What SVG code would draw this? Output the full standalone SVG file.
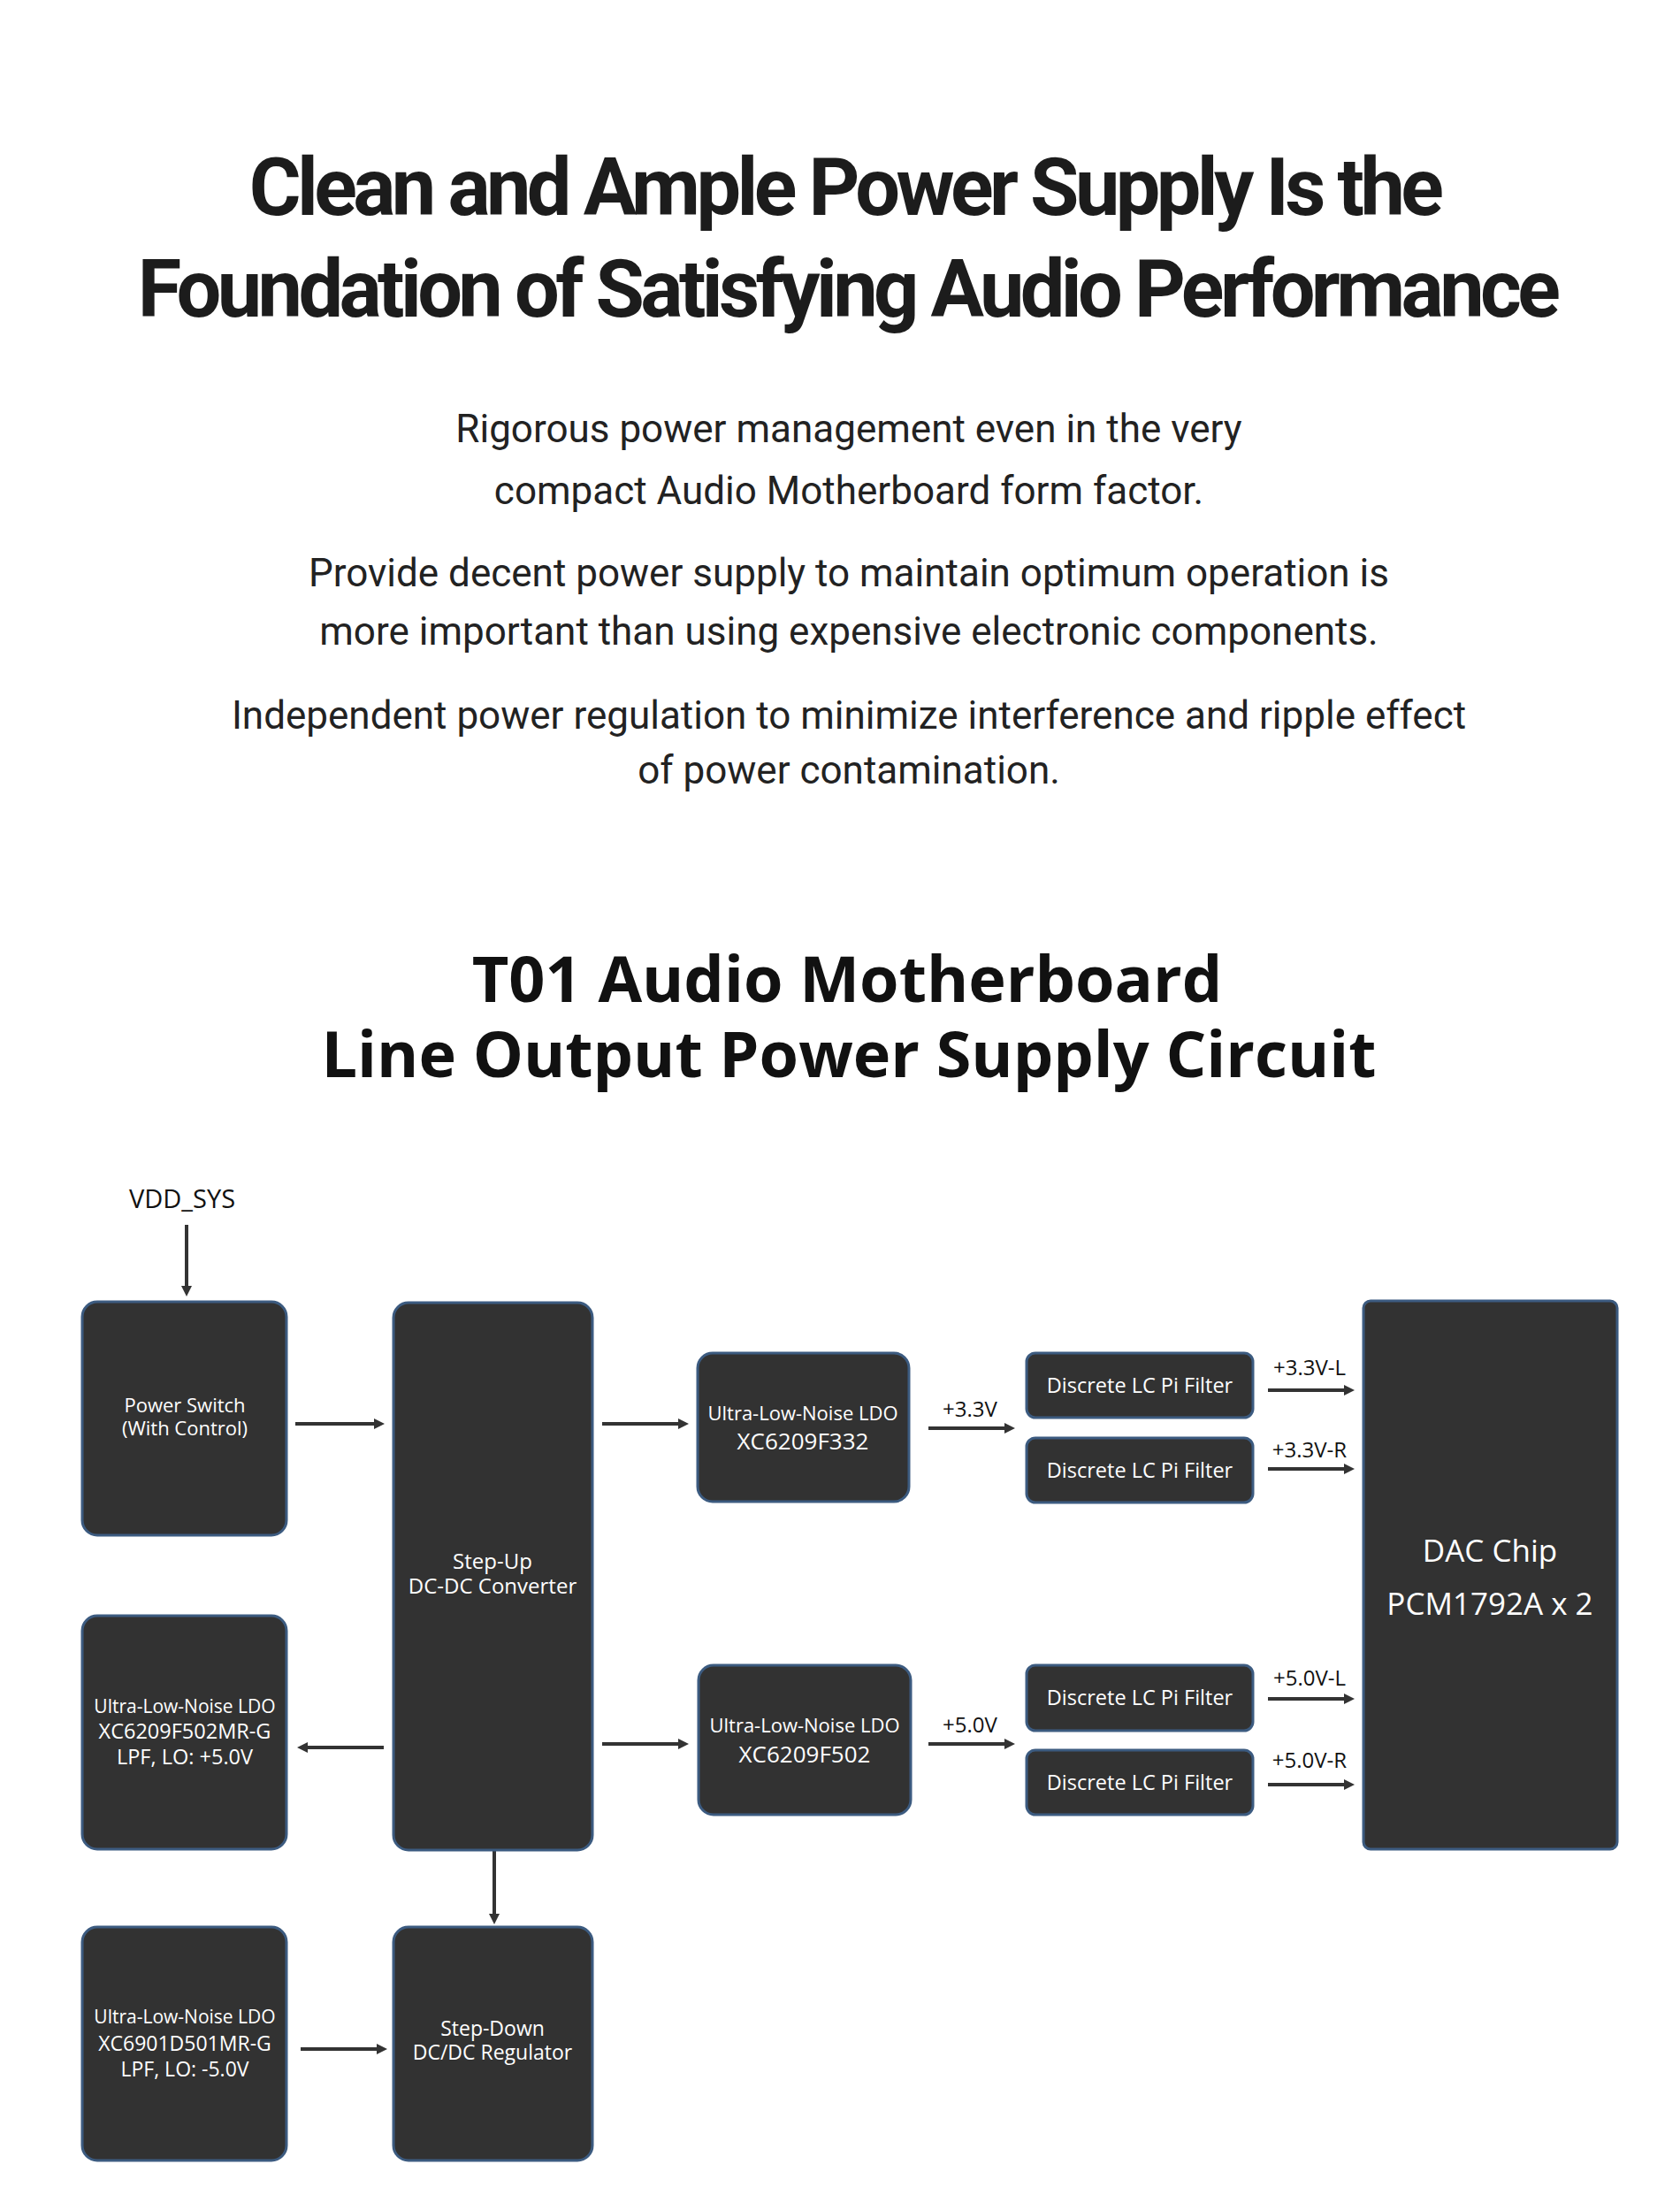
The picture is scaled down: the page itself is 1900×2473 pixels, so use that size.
<svg xmlns="http://www.w3.org/2000/svg" width="1900" height="2473" viewBox="0 0 1900 2473">
<style>
.h1{font-family:Roboto,"Liberation Sans",sans-serif;font-weight:700;font-size:90px;fill:#1c1c1c;text-anchor:middle;letter-spacing:-4.6px}
.p{font-family:Roboto,"Liberation Sans",sans-serif;font-weight:400;font-size:44px;fill:#222;text-anchor:middle}
.h2{font-family:"Open Sans","Noto Sans",sans-serif;font-weight:700;font-size:72px;fill:#111;text-anchor:middle}
.box{fill:#323232;stroke:#3c5b80;stroke-width:3}
.t{font-family:"Open Sans","Noto Sans",sans-serif;font-size:22px;fill:#fff;text-anchor:middle}
.t21{font-size:21px}
.t23{font-size:23px}
.t23b{font-size:23.5px}
.t24{font-size:24px}
.t26{font-size:26px}
.dac{font-size:35px}
.lbl{font-family:"Open Sans","Noto Sans",sans-serif;font-size:24px;fill:#111;text-anchor:middle}
.vdd{font-size:29px}
.ar{stroke:#333;stroke-width:4;fill:none;marker-end:url(#ah)}
</style>
<defs>
<marker id="ah" markerUnits="userSpaceOnUse" markerWidth="14" markerHeight="14" refX="1" refY="6" orient="auto">
<path d="M0,0 L12,6 L0,12 z" fill="#333"/>
</marker>
</defs>
<rect width="1900" height="2473" fill="#fff"/>

<g id="title">
<text class="h1" x="955" y="243">Clean and Ample Power Supply Is the</text>
<text class="h1" x="958" y="358">Foundation of Satisfying Audio Performance</text>
</g>
<g id="intro">
<text class="p" x="960" y="500">Rigorous power management even in the very</text>
<text class="p" x="960" y="570">compact Audio Motherboard form factor.</text>
<text class="p" x="960" y="663">Provide decent power supply to maintain optimum operation is</text>
<text class="p" x="960" y="729">more important than using expensive electronic components.</text>
<text class="p" x="960" y="824">Independent power regulation to minimize interference and ripple effect</text>
<text class="p" x="960" y="886">of power contamination.</text>
</g>
<g id="subtitle">
<text class="h2" x="958" y="1133">T01 Audio Motherboard</text>
<text class="h2" x="960" y="1218">Line Output Power Supply Circuit</text>
</g>

<g id="connectors">
<path class="ar" d="M211,1385 V1455"/>
<path class="ar" d="M334,1610 H424"/>
<path class="ar" d="M681,1610 H768"/>
<path class="ar" d="M434,1976 H347"/>
<path class="ar" d="M681,1972 H768"/>
<path class="ar" d="M559,2092 V2165"/>
<path class="ar" d="M340,2317 H427"/>
<path class="ar" d="M1050,1615 H1137"/>
<path class="ar" d="M1050,1972 H1137"/>
<path class="ar" d="M1434,1572 H1521"/>
<path class="ar" d="M1434,1661 H1521"/>
<path class="ar" d="M1434,1921 H1521"/>
<path class="ar" d="M1434,2018 H1521"/>
<text class="lbl vdd" x="206" y="1366">VDD_SYS</text>
<text class="lbl" x="1097" y="1602">+3.3V</text>
<text class="lbl" x="1097" y="1959">+5.0V</text>
<text class="lbl" x="1481" y="1555">+3.3V-L</text>
<text class="lbl" x="1481" y="1648">+3.3V-R</text>
<text class="lbl" x="1481" y="1906">+5.0V-L</text>
<text class="lbl" x="1481" y="1999">+5.0V-R</text>
</g>

<g id="power-switch">
<rect class="box" x="93" y="1472" width="231" height="264" rx="17"/>
<text class="t" x="209" y="1597">Power Switch</text>
<text class="t" x="209" y="1623">(With Control)</text>
</g>
<g id="step-up">
<rect class="box" x="445" y="1473" width="225" height="619" rx="17"/>
<text class="t t24" x="557" y="1774">Step-Up</text>
<text class="t t24" x="557" y="1802">DC-DC Converter</text>
</g>
<g id="ldo-plus5">
<rect class="box" x="93" y="1827" width="231" height="264" rx="17"/>
<text class="t t21" x="209" y="1937">Ultra-Low-Noise LDO</text>
<text class="t t23b" x="209" y="1966">XC6209F502MR-G</text>
<text class="t t23b" x="209" y="1995">LPF, LO: +5.0V</text>
</g>
<g id="ldo-minus5">
<rect class="box" x="93" y="2179" width="231" height="264" rx="17"/>
<text class="t t21" x="209" y="2288">Ultra-Low-Noise LDO</text>
<text class="t t23" x="209" y="2319">XC6901D501MR-G</text>
<text class="t t23" x="209" y="2348">LPF, LO: -5.0V</text>
</g>
<g id="step-down">
<rect class="box" x="445" y="2179" width="225" height="264" rx="17"/>
<text class="t t23" x="557" y="2302">Step-Down</text>
<text class="t t23" x="557" y="2329">DC/DC Regulator</text>
</g>
<g id="ldo-3v3">
<rect class="box" x="789" y="1530" width="239" height="168" rx="17"/>
<text class="t" x="908" y="1606">Ultra-Low-Noise LDO</text>
<text class="t t26" x="908" y="1639">XC6209F332</text>
</g>
<g id="ldo-5v0">
<rect class="box" x="790" y="1883" width="240" height="169" rx="17"/>
<text class="t" x="910" y="1959">Ultra-Low-Noise LDO</text>
<text class="t t26" x="910" y="1993">XC6209F502</text>
</g>
<g id="filter-3v3-l">
<rect class="box" x="1161" y="1530" width="256" height="73" rx="10"/>
<text class="t t23b" x="1289" y="1575">Discrete LC Pi Filter</text>
</g>
<g id="filter-3v3-r">
<rect class="box" x="1161" y="1626" width="256" height="73" rx="10"/>
<text class="t t23b" x="1289" y="1671">Discrete LC Pi Filter</text>
</g>
<g id="filter-5v0-l">
<rect class="box" x="1161" y="1883" width="256" height="74" rx="10"/>
<text class="t t23b" x="1289" y="1928">Discrete LC Pi Filter</text>
</g>
<g id="filter-5v0-r">
<rect class="box" x="1161" y="1979" width="256" height="73" rx="10"/>
<text class="t t23b" x="1289" y="2024">Discrete LC Pi Filter</text>
</g>
<g id="dac">
<rect class="box" x="1542" y="1471" width="287" height="620" rx="8"/>
<text class="t dac" x="1685" y="1766">DAC Chip</text>
<text class="t dac" x="1685" y="1826">PCM1792A x 2</text>
</g>
</svg>
